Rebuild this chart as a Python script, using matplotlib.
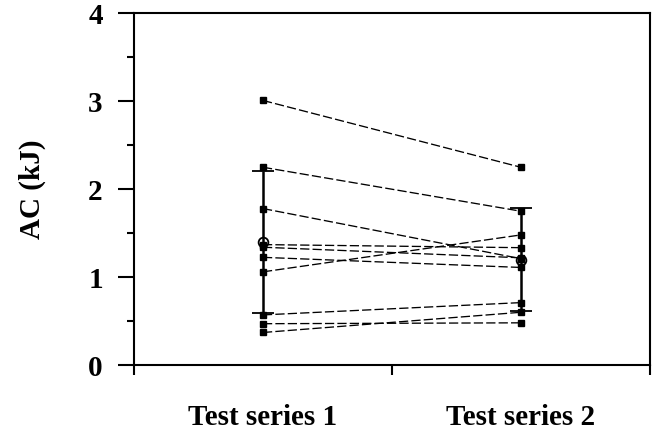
import matplotlib
matplotlib.use("Agg")
import matplotlib.pyplot as plt
import numpy as np

categories = ["Test series 1", "Test series 2"]
cat_pos = [0.5, 1.5]
series1 = [3.01, 2.25, 1.78, 1.37, 1.34, 1.225, 1.06, 0.57, 0.47, 0.37]
series2 = [2.25, 1.75, 1.21, 1.335, 1.22, 1.11, 1.48, 0.71, 0.48, 0.60]
means = [1.40, 1.20]
sds = [0.81, 0.59]
yticks = [0, 1, 2, 3, 4]

plt.rcParams['font.family'] = ['Liberation Serif', 'DejaVu Serif']
plt.rcParams['font.weight'] = 'bold'

fig = plt.figure(figsize=(6.57, 4.33), dpi=100)
ax = fig.add_axes([0.204, 0.157, 0.785, 0.812])

for a, b in zip(series1, series2):
    ax.plot(cat_pos, [a, b], color='black', lw=0.95, dashes=(7, 2.4),
            marker='s', markersize=4.4, markerfacecolor='black',
            markeredgecolor='black', zorder=3)

for x, m, s in zip(cat_pos, means, sds):
    ax.errorbar([x], [m], yerr=[s], fmt='o', markersize=7,
                markerfacecolor='none', markeredgecolor='black',
                markeredgewidth=1.3, ecolor='black', elinewidth=1.8,
                capsize=8, capthick=1.8, zorder=4)

ax.set_xlim(0, 2)
ax.set_ylim(0, 4)
ax.set_yticks(yticks)
ax.set_yticklabels([str(v) for v in yticks], fontsize=21, fontweight='bold')
ax.set_yticks(np.arange(0.5, 4, 1), minor=True)
ax.tick_params(axis='y', which='major', direction='out', length=11.5, width=1.5, pad=11)
ax.tick_params(axis='y', which='minor', direction='out', length=5, width=1.5)

ax.set_xticks([0, 1, 2])
ax.set_xticklabels(['', '', ''])
ax.set_xticks(cat_pos, minor=True)
ax.set_xticklabels(categories, minor=True, fontsize=21, fontweight='bold')
ax.tick_params(axis='x', which='major', direction='out', length=7, width=1.5)
ax.tick_params(axis='x', which='minor', length=0, pad=28)

for sp in ax.spines.values():
    sp.set_linewidth(1.5)

ax.set_ylabel('AC (kJ)', fontsize=21, fontweight='bold', labelpad=30)

fig.savefig('out.png', dpi=100)
